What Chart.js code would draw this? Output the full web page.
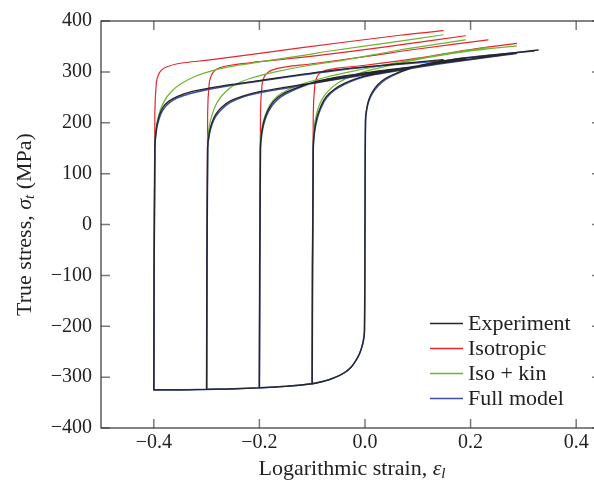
<!DOCTYPE html>
<html>
<head>
<meta charset="utf-8">
<script src="https://cdn.jsdelivr.net/npm/chart.js@4.4.0/dist/chart.umd.min.js"></script>
<style>
  html, body { margin: 0; padding: 0; background: #fff; overflow: hidden; width: 594px; height: 487px; }
  canvas { display: block; }
</style>
</head>
<body>
<canvas id="cyclicChart" width="603" height="487"></canvas>
<script>
// --- data: true stress (MPa) vs logarithmic strain ---
const xTicks = [-0.4, -0.2, 0, 0.2, 0.4];
const yTicks = [-400, -300, -200, -100, 0, 100, 200, 300, 400];
const seriesNames = ['Experiment', 'Isotropic', 'Iso + kin', 'Full model'];

// pre-strain reached in compression before each reversal (0 = plain tension)
const preStrain = [-0.4, -0.3, -0.2, -0.1, 0];

// compression branch from the undeformed state
const compStrain = [0, -0.001, -0.003, -0.006, -0.010, -0.016, -0.026, -0.040, -0.058, -0.078, -0.100, -0.150, -0.200, -0.250, -0.300, -0.350, -0.400];
const compStress = [0, -210, -228, -241, -253, -265, -280, -292, -301, -308, -313, -318, -321, -323, -324, -325, -325];

// reversed loading (tension) after each pre-strain
const expStrain = [
  [-0.400, -0.398, -0.395, -0.390, -0.383, -0.372, -0.355, -0.325, -0.290, -0.240, -0.186, -0.120, -0.061, 0.000, 0.066, 0.148],
  [-0.300, -0.298, -0.295, -0.290, -0.283, -0.272, -0.255, -0.230, -0.200, -0.156, -0.100, -0.050, 0.000, 0.066, 0.120, 0.190],
  [-0.200, -0.198, -0.195, -0.190, -0.183, -0.173, -0.158, -0.138, -0.100, -0.050, 0.000, 0.066, 0.150, 0.233],
  [-0.100, -0.098, -0.095, -0.090, -0.083, -0.073, -0.058, -0.040, -0.015, 0.010, 0.066, 0.150, 0.287],
  [0.000, 0.001, 0.003, 0.007, 0.014, 0.025, 0.040, 0.061, 0.085, 0.110, 0.150, 0.186, 0.240, 0.328]
];
const expStress = [
  [-325, 150, 190, 213, 230, 242, 252, 262, 269, 277, 285, 295, 303, 310, 316, 324],
  [-324, 150, 180, 200, 216, 230, 243, 253, 261, 269, 278, 287, 295, 306, 315, 326],
  [-321, 150, 185, 208, 226, 242, 255, 265, 279, 290, 298, 307, 318, 330],
  [-313, 150, 190, 214, 234, 252, 266, 277, 287, 294, 304, 318, 337],
  [0, 205, 226, 245, 261, 276, 288, 298, 307, 314, 322, 327, 333, 343]
];

const isoStrain = [
  [-0.400, -0.398, -0.395, -0.391, -0.385, -0.375, -0.355, -0.290, -0.123, 0.066, 0.148],
  [-0.300, -0.298, -0.295, -0.291, -0.285, -0.275, -0.255, -0.200, -0.076, 0.066, 0.190],
  [-0.200, -0.198, -0.195, -0.191, -0.185, -0.175, -0.155, -0.100, 0.000, 0.100, 0.233],
  [-0.100, -0.098, -0.095, -0.091, -0.085, -0.075, -0.055, 0.000, 0.100, 0.200, 0.287]
];
const isoStress = [
  [-325, 220, 280, 295, 304, 310, 316, 324, 347, 372, 381],
  [-324, 220, 278, 293, 302, 308, 313, 320, 334, 353, 371],
  [-321, 215, 275, 290, 298, 304, 309, 316, 330, 345, 363],
  [-313, 215, 275, 290, 298, 303, 307, 313, 327, 344, 356]
];

const kinStrain = [
  [-0.400, -0.398, -0.395, -0.389, -0.380, -0.367, -0.348, -0.322, -0.287, -0.240, -0.190, -0.120, -0.066, 0.050, 0.148],
  [-0.300, -0.298, -0.295, -0.289, -0.280, -0.266, -0.246, -0.215, -0.170, -0.110, -0.040, 0.060, 0.190],
  [-0.200, -0.198, -0.195, -0.189, -0.180, -0.166, -0.146, -0.120, -0.076, -0.020, 0.060, 0.140, 0.233],
  [-0.100, -0.098, -0.095, -0.090, -0.082, -0.069, -0.050, -0.022, 0.004, 0.066, 0.123, 0.200, 0.287]
];
const kinStress = [
  [-325, 160, 193, 221, 243, 261, 277, 291, 303, 313, 321, 332, 341, 358, 373],
  [-324, 160, 193, 218, 240, 259, 275, 288, 300, 312, 323, 342, 363],
  [-321, 160, 192, 215, 235, 252, 265, 276, 289, 302, 318, 333, 348],
  [-313, 165, 200, 224, 245, 263, 279, 293, 302, 317, 329, 341, 351]
];

const fullStrain = [
  [-0.400, -0.398, -0.395, -0.390, -0.383, -0.372, -0.355, -0.325, -0.290, -0.240, -0.186, -0.120, -0.061, 0.000, 0.066, 0.148],
  [-0.300, -0.298, -0.295, -0.290, -0.283, -0.272, -0.255, -0.230, -0.200, -0.156, -0.100, -0.050, 0.000, 0.066, 0.120, 0.190],
  [-0.200, -0.198, -0.195, -0.190, -0.183, -0.173, -0.158, -0.138, -0.100, -0.050, 0.000, 0.066, 0.150, 0.233],
  [-0.100, -0.098, -0.095, -0.090, -0.083, -0.073, -0.058, -0.040, -0.015, 0.010, 0.066, 0.150, 0.287],
  [0.000, 0.001, 0.003, 0.007, 0.014, 0.025, 0.040, 0.061, 0.085, 0.110, 0.150, 0.186, 0.240, 0.320]
];
const fullStress = [
  [-325, 150, 186, 208, 225, 238, 249, 259, 267, 276, 284, 294, 302, 309, 315, 322],
  [-324, 150, 176, 196, 212, 226, 240, 251, 259, 267, 277, 286, 294, 305, 314, 325],
  [-321, 150, 181, 204, 222, 238, 252, 263, 278, 289, 297, 306, 317, 329],
  [-313, 150, 186, 210, 230, 249, 264, 275, 286, 293, 303, 317, 336],
  [0, 205, 224, 242, 258, 273, 286, 297, 306, 313, 321, 327, 333, 341]
];

// --- build one gapped path per model ---
const toPoints = (xs, ys) => xs.map((x, i) => ({ x: x, y: ys[i] }));

function buildPath(strains, stresses, withCompression) {
  const pts = [];
  strains.forEach((xs, k) => {
    if (pts.length) pts.push({ x: null, y: null });
    if (withCompression && preStrain[k] < 0) {
      compStrain.forEach((e, i) => {
        if (e >= preStrain[k] - 1e-9) pts.push({ x: e, y: compStress[i] });
      });
    }
    pts.push(...toPoints(xs, stresses[k]));
  });
  return pts;
}

const fmt = v => (Math.abs(v) < 1e-9 ? 0 : v);
const minus = s => s.replace('-', '\u2212');
const serif = 'Liberation Serif';

// --- inward tick marks on all four sides, plus the frame ---
const framePlugin = {
  id: 'plotFrame',
  afterDraw(chart) {
    const ctx = chart.ctx;
    const a = chart.chartArea;
    const sx = chart.scales.x, sy = chart.scales.y;
    const len = 9;
    ctx.save();
    ctx.strokeStyle = '#7a7a7a';
    ctx.lineWidth = 1.5;
    ctx.beginPath();
    for (const v of xTicks) {
      const p = sx.getPixelForValue(v);
      ctx.moveTo(p, a.bottom);
      ctx.lineTo(p, a.bottom - len);
      ctx.moveTo(p, a.top);
      ctx.lineTo(p, a.top + len);
    }
    for (const v of yTicks) {
      const p = sy.getPixelForValue(v);
      ctx.moveTo(a.left, p);
      ctx.lineTo(a.left + len, p);
      ctx.moveTo(a.right, p);
      ctx.lineTo(a.right - len, p);
    }
    ctx.stroke();
    ctx.lineWidth = 1.2;
    ctx.strokeStyle = '#333';
    ctx.strokeRect(a.left, a.top, a.right - a.left, a.bottom - a.top);
    ctx.restore();
  }
};

// draws a row of text pieces centred on (0, 0) of the current transform
function drawRuns(ctx, runs) {
  let total = 0;
  runs.forEach(r => { ctx.font = r.font; r.w = ctx.measureText(r.text).width; total += r.w; });
  let x = -total / 2;
  runs.forEach(r => {
    ctx.font = r.font;
    ctx.fillText(r.text, x, r.dy || 0);
    x += r.w;
  });
}

// --- axis titles with italic symbols and subscripts ---
const titlePlugin = {
  id: 'axisTitles',
  afterDraw(chart) {
    const { ctx, chartArea: a } = chart;
    ctx.save();
    ctx.fillStyle = '#222';
    ctx.textBaseline = 'middle';
    ctx.textAlign = 'left';

    ctx.save();
    ctx.translate(352, 469);
    drawRuns(ctx, [
      { text: 'Logarithmic strain, ', font: `22px ${serif}` },
      { text: 'ε', font: `italic 22px ${serif}` },
      { text: 'l', font: `italic 15px ${serif}`, dy: 5 }
    ]);
    ctx.restore();

    ctx.save();
    ctx.translate(25, (a.top + a.bottom) / 2);
    ctx.rotate(-Math.PI / 2);
    drawRuns(ctx, [
      { text: 'True stress, ', font: `22px ${serif}` },
      { text: 'σ', font: `italic 22px ${serif}` },
      { text: 't', font: `italic 15px ${serif}`, dy: 5 },
      { text: ' (MPa)', font: `22px ${serif}` }
    ]);
    ctx.restore();
    ctx.restore();
  }
};

// --- legend inside the plot, lower right ---
const legendPlugin = {
  id: 'insideLegend',
  afterDraw(chart) {
    const { ctx } = chart;
    ctx.save();
    ctx.font = `22px ${serif}`;
    ctx.textBaseline = 'middle';
    ctx.fillStyle = '#222';
    chart.data.datasets.forEach((ds, i) => {
      const y = 323 + i * 25;
      ctx.strokeStyle = ds.borderColor;
      ctx.lineWidth = 1.3;
      ctx.beginPath();
      ctx.moveTo(430, y + 0.5);
      ctx.lineTo(463, y + 0.5);
      ctx.stroke();
      ctx.fillText(ds.label, 468, y + 1);
    });
    ctx.restore();
  }
};

const lineStyle = (color, width, order) => ({
  borderColor: color,
  backgroundColor: color,
  borderWidth: width,
  pointRadius: 0,
  tension: 0.4,
  fill: false,
  spanGaps: false,
  borderCapStyle: 'round',
  borderJoinStyle: 'round',
  order: order
});

new Chart(document.getElementById('cyclicChart'), {
  type: 'line',
  data: {
    datasets: [
      { label: seriesNames[0], data: buildPath(expStrain, expStress, true), ...lineStyle('#262626', 1.3, 0) },
      { label: seriesNames[1], data: buildPath(isoStrain, isoStress, false), ...lineStyle('#e5262e', 1.2, 3) },
      { label: seriesNames[2], data: buildPath(kinStrain, kinStress, false), ...lineStyle('#6db52f', 1.2, 2) },
      { label: seriesNames[3], data: buildPath(fullStrain, fullStress, true), ...lineStyle('#3f50a8', 1.6, 1) }
    ]
  },
  options: {
    responsive: false,
    animation: false,
    devicePixelRatio: 1,
    events: [],
    layout: { padding: { top: 12, right: 2, left: 0, bottom: 0 } },
    plugins: { legend: { display: false }, tooltip: { enabled: false } },
    scales: {
      x: {
        type: 'linear',
        min: -0.5,
        max: 0.447,
        afterBuildTicks: s => { s.ticks = xTicks.map(v => ({ value: v })); },
        afterFit: s => { s.height = 59; },
        grid: { display: false, drawTicks: false },
        border: { display: false },
        ticks: {
          autoSkip: false,
          maxRotation: 0,
          padding: 3,
          color: '#222',
          font: { family: serif, size: 20 },
          callback: v => minus(fmt(v).toFixed(1))
        }
      },
      y: {
        type: 'linear',
        min: -400,
        max: 400,
        afterBuildTicks: s => { s.ticks = yTicks.map(v => ({ value: v })); },
        afterFit: s => { s.width = 101; },
        grid: { display: false, drawTicks: false },
        border: { display: false },
        ticks: {
          padding: 9,
          color: '#222',
          font: { family: serif, size: 20 },
          callback: v => minus(String(fmt(v)))
        }
      }
    }
  },
  plugins: [framePlugin, titlePlugin, legendPlugin]
});
</script>
</body>
</html>
